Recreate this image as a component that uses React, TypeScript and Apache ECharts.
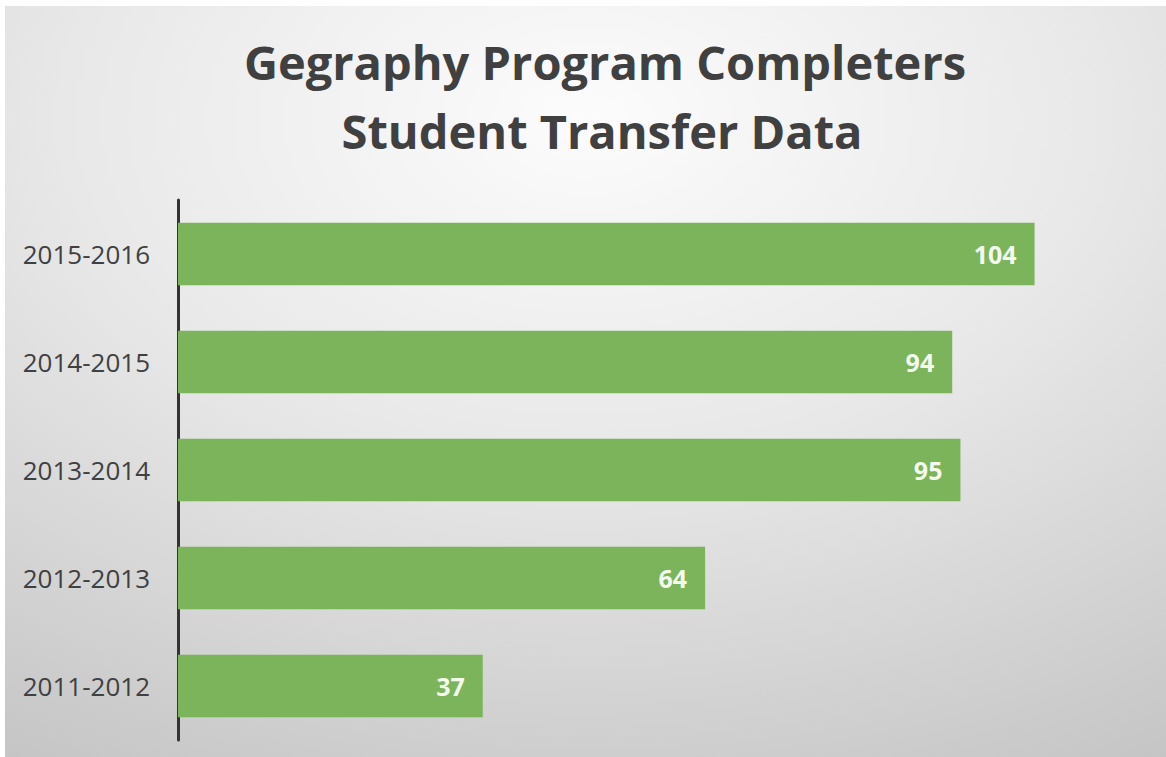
import React, { useEffect, useRef } from "react";
import * as echarts from "echarts";

const categories = ["2011-2012", "2012-2013", "2013-2014", "2014-2015", "2015-2016"];
const values = [37, 64, 95, 94, 104];
const titleLines = ["Gegraphy Program Completers", "Student Transfer Data"];

export default function App() {
  const ref = useRef<HTMLDivElement>(null);
  useEffect(() => {
    if (!ref.current) return;
    const chart = echarts.init(ref.current, null, { renderer: "svg" });
    chart.setOption({
      animation: false,
      backgroundColor: {
        type: "radial",
        x: 0.5,
        y: 0.15,
        r: 1.0,
        colorStops: [
          { offset: 0, color: "#fcfcfc" },
          { offset: 0.45, color: "#e8e8e8" },
          { offset: 1, color: "#c4c4c4" },
        ],
      },
      graphic: [
        {
          type: "text",
          x: 600,
          y: 56,
          style: {
            text: titleLines[0],
            align: "center",
            verticalAlign: "middle",
            fontFamily: "Open Sans",
            fontWeight: "bold",
            fontSize: 47,
            fill: "#404040",
          },
        },
        {
          type: "text",
          x: 597,
          y: 125,
          style: {
            text: titleLines[1],
            align: "center",
            verticalAlign: "middle",
            fontFamily: "Open Sans",
            fontWeight: "bold",
            fontSize: 47,
            fill: "#404040",
          },
        },
      ],
      grid: { left: 173, top: 194, height: 540, width: 906 },
      xAxis: {
        type: "value",
        min: 0,
        max: 110,
        show: false,
        splitLine: { show: false },
      },
      yAxis: {
        type: "category",
        data: categories,
        axisTick: { show: false },
        axisLine: { show: true, lineStyle: { color: "#333333", width: 3 } },
        axisLabel: {
          margin: 28,
          fontSize: 26,
          fontFamily: "Open Sans",
          color: "#404040",
        },
      },
      series: [
        {
          type: "bar",
          data: values,
          barCategoryGap: "42%",
          itemStyle: { color: "#7bb45b" },
          label: {
            show: true,
            position: "insideRight",
            distance: 18,
            color: "#f4faee",
            fontFamily: "Open Sans",
            fontWeight: "bold",
            fontSize: 25,
          },
        },
      ],
    });
    return () => chart.dispose();
  }, []);
  return (
    <div style={{ position: "fixed", left: 0, top: 0, width: 1166, height: 757, background: "#ffffff" }}>
      <div ref={ref} style={{ position: "absolute", left: 5, top: 6, width: 1161, height: 751 }} />
    </div>
  );
}
